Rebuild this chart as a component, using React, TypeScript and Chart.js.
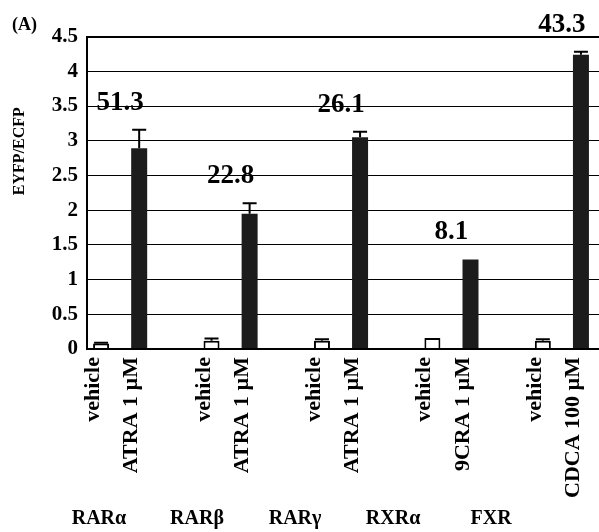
import React, { useEffect, useRef } from 'react';
import { Chart, registerables } from 'chart.js';
Chart.register(...registerables);

const FONT = '"Liberation Serif", "Times New Roman", serif';

const groups = ['RARα', 'RARβ', 'RARγ', 'RXRα', 'FXR'];
const vehicleLabel = 'vehicle';
const treatmentLabels = ['ATRA 1 µM', 'ATRA 1 µM', 'ATRA 1 µM', '9CRA 1 µM', 'CDCA 100 µM'];
const vehicleValues = [0.08, 0.12, 0.12, 0.16, 0.12];
const vehicleErrors = [0.01, 0.03, 0.02, 0, 0.02];
const treatmentValues = [2.89, 1.95, 3.05, 1.29, 4.24];
const treatmentErrors = [0.27, 0.15, 0.08, 0, 0.04];
const foldLabels = ['51.3', '22.8', '26.1', '8.1', '43.3'];
const yTitle = 'EYFP/ECFP';
const panelLabel = '(A)';
const yMin = 0;
const yMax = 4.5;
const yStep = 0.5;

export default function App() {
  const ref = useRef<HTMLCanvasElement>(null);
  useEffect(() => {
    document.body.style.margin = '0';
    const annot = {
      id: 'annot',
      afterDraw(chart: any) {
        const ctx = chart.ctx;
        const ys = chart.scales.y;
        const mv = chart.getDatasetMeta(0);
        const mt = chart.getDatasetMeta(1);
        const area = chart.chartArea;
        ctx.save();
        ctx.strokeStyle = '#000';
        ctx.lineWidth = 2;
        const drawErr = (el: any, v: number, e: number) => {
          if (!e) return;
          const top = ys.getPixelForValue(v + e);
          const base = ys.getPixelForValue(v);
          ctx.beginPath();
          ctx.moveTo(el.x, base);
          ctx.lineTo(el.x, top);
          ctx.moveTo(el.x - 7, top);
          ctx.lineTo(el.x + 7, top);
          ctx.stroke();
        };
        groups.forEach((_, i) => {
          drawErr(mv.data[i], vehicleValues[i], vehicleErrors[i]);
          drawErr(mt.data[i], treatmentValues[i], treatmentErrors[i]);
        });
        ctx.fillStyle = '#000';
        const drawRot = (x: number, y: number, text: string, align: CanvasTextAlign, baseline: CanvasTextBaseline, font: string) => {
          ctx.save();
          ctx.translate(x, y);
          ctx.rotate(-Math.PI / 2);
          ctx.textAlign = align;
          ctx.textBaseline = baseline;
          ctx.font = font;
          ctx.fillText(text, 0, 0);
          ctx.restore();
        };
        const barFont = `bold 22px ${FONT}`;
        groups.forEach((_, i) => {
          drawRot(mv.data[i].x - 2, area.bottom + 8, vehicleLabel, 'right', 'alphabetic', barFont);
          drawRot(mt.data[i].x - 2, area.bottom + 8, treatmentLabels[i], 'right', 'alphabetic', barFont);
        });
        // y-axis title, placed in the upper part of the axis as in the figure
        drawRot(20, ys.getPixelForValue(2.85), yTitle, 'center', 'middle', `bold 16px ${FONT}`);
        ctx.font = `bold 27px ${FONT}`;
        ctx.textAlign = 'center';
        ctx.textBaseline = 'alphabetic';
        groups.forEach((_, i) => {
          const cx = (mv.data[i].x + mt.data[i].x) / 2;
          const top = ys.getPixelForValue(treatmentValues[i] + treatmentErrors[i]);
          ctx.fillText(foldLabels[i], cx, top - 20);
        });
        ctx.restore();
      },
    };

    const chart = new Chart(ref.current!, {
      type: 'bar',
      data: {
        datasets: [
          {
            label: vehicleLabel,
            data: vehicleValues.map((v, i) => ({ x: i, y: v })),
            backgroundColor: '#ffffff',
            borderColor: '#000000',
            borderWidth: 2,
            categoryPercentage: 0.69,
            barPercentage: 0.42,
          },
          {
            label: 'treatment',
            data: treatmentValues.map((v, i) => ({ x: i, y: v })),
            backgroundColor: '#1c1c1c',
            borderColor: '#000000',
            borderWidth: 0,
            categoryPercentage: 0.69,
            barPercentage: 0.42,
          },
        ],
      },
      options: {
        animation: false,
        responsive: false,
        devicePixelRatio: 1,
        layout: { padding: { left: 12, right: 0, top: 0, bottom: 0 } },
        plugins: {
          legend: { display: false },
          tooltip: { enabled: false },
          title: {
            display: true,
            text: panelLabel,
            align: 'start',
            color: '#000',
            font: { family: FONT, size: 18, weight: 'bold' },
            padding: { top: 15, bottom: 0 },
          },
        },
        scales: {
          x: {
            type: 'linear',
            position: 'bottom',
            display: true,
            offset: false,
            min: -0.3,
            max: 4.336,
            afterBuildTicks: (s: any) => {
              s.ticks = groups.map((_, i) => ({ value: i }));
            },
            ticks: { display: false },
            grid: { display: false, drawTicks: false },
            border: { display: false },
            title: { display: true, text: '', font: { size: 10 }, padding: { top: 145, bottom: 0 } },
          },
          x2: {
            type: 'linear',
            position: 'bottom',
            offset: false,
            min: -0.122,
            max: 5.1,
            afterBuildTicks: (s: any) => {
              s.ticks = groups.map((_, i) => ({ value: i }));
            },
            grid: { display: false, drawTicks: false },
            border: { display: false },
            ticks: {
              color: '#000',
              padding: 1,
              maxRotation: 0,
              autoSkip: false,
              font: { family: FONT, size: 20, weight: 'bold' },
              callback: (v: any) => groups[Math.round(Number(v))] ?? '',
            },
          },
          y: {
            type: 'linear',
            min: yMin,
            max: yMax,
            afterFit: (s: any) => {
              s.width = 75;
            },
            ticks: {
              stepSize: yStep,
              autoSkip: false,
              color: '#000',
              padding: 9,
              font: { family: FONT, size: 21, weight: 'bold' },
              callback: (v: any) => String(Number(v)),
            },
            grid: {
              color: '#000',
              drawTicks: false,
              lineWidth: (c: any) => (c.tick && (c.tick.value === yMin || c.tick.value === yMax) ? 2 : 1),
            },
            border: { display: true, color: '#000', width: 2 },
          },
        },
      },
      plugins: [annot],
    } as any);
    return () => chart.destroy();
  }, []);
  return (
    <div style={{ width: 599, height: 532 }}>
      <canvas ref={ref} width={599} height={532} style={{ display: 'block' }} />
    </div>
  );
}
